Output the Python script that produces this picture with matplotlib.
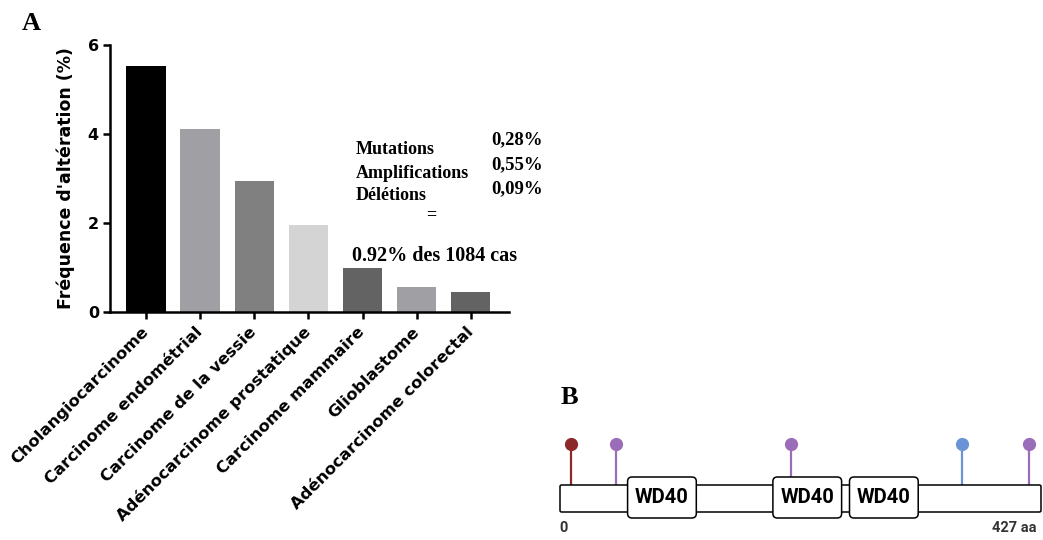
import numpy as np
import matplotlib
matplotlib.use("Agg")
import matplotlib.pyplot as plt
from matplotlib.patches import FancyBboxPatch

# panel A data
cancers = [
    "Cholangiocarcinome", "Carcinome endométrial", "Carcinome de la vessie",
    "Adénocarcinome prostatique", "Carcinome mammaire", "Glioblastome",
    "Adénocarcinome colorectal",
]
freq = [5.53, 4.12, 2.94, 1.94, 0.98, 0.56, 0.45]
bar_colors = ["#000000", "#a0a0a4", "#808080", "#d4d4d4", "#636363", "#a0a0a4", "#636363"]
y_ticks = [0, 2, 4, 6]

alt_types = ["Mutations", "Amplifications", "Délétions"]
alt_pcts = ["0,28%", "0,55%", "0,09%"]
total_text = "0.92% des 1084 cas"

# panel B data (protein, aa)
prot_len = 427
domains = [(60, 121), (189, 250), (257, 318)]
domain_label = "WD40"
mut_pos = [10, 50, 205, 357, 416]
mut_colors = ["#8c2a2a", "#9b6cb8", "#9b6cb8", "#6b94d6", "#9b6cb8"]

W, H = 1043, 540
fig = plt.figure(figsize=(W / 100, H / 100), dpi=100)


def px(x, y):
    return x / W, 1 - y / H


# ---- panel A
ax = fig.add_axes([110 / W, 1 - 311.7 / H, (509 - 110) / W, (311.7 - 45) / H])
xs = np.arange(len(cancers))
ax.bar(xs, freq, width=0.727, color=bar_colors, edgecolor="none")
ax.set_xlim(-0.665, 6.706)
ax.set_ylim(0, 6)
ax.set_yticks(y_ticks)
ax.set_xticks(xs)
ax.set_xticklabels(cancers, rotation=45, ha="right", va="center",
                   rotation_mode="anchor", fontsize=11.8, fontweight="bold",
                   family="DejaVu Sans")
for lab in ax.get_yticklabels():
    lab.set_fontweight("bold")
    lab.set_fontsize(11.5)
ax.tick_params(axis="y", length=5, width=1.8, pad=3)
ax.tick_params(axis="x", length=5, width=1.8, pad=8)
ax.spines["top"].set_visible(False)
ax.spines["right"].set_visible(False)
ax.spines["left"].set_linewidth(1.8)
ax.spines["bottom"].set_linewidth(1.8)
ax.set_ylabel("Fréquence d'altération (%)", fontsize=12.5, fontweight="bold",
              labelpad=9)

serif = "Liberation Serif"
fig.text(*px(31, 23), "A", fontsize=19, fontweight="bold", family=serif,
         ha="center", va="center")
for i, (t, p) in enumerate(zip(alt_types, alt_pcts)):
    fig.text(*px(356, 150 + 23 * i), t, fontsize=13, fontweight="bold",
             family=serif, ha="left", va="center")
    fig.text(*px(517, 140 + 24.5 * i), p, fontsize=13.5, fontweight="bold",
             family=serif, ha="center", va="center")
fig.text(*px(431, 215), "=", fontsize=13, fontweight="bold", family=serif,
         ha="center", va="center")
fig.text(*px(435, 256), total_text, fontsize=14.5, fontweight="bold",
         family=serif, ha="center", va="center")

# ---- panel B
fig.text(*px(569, 397), "B", fontsize=19, fontweight="bold", family=serif,
         ha="center", va="center")
axb = fig.add_axes([560 / W, 0, 481 / W, 110 / H])
axb.set_xlim(0, prot_len)
axb.set_ylim(0, 110)
axb.axis("off")

bar_y0, bar_y1 = 28, 55
axb.add_patch(FancyBboxPatch((0, bar_y0), prot_len, bar_y1 - bar_y0,
                             boxstyle="round,pad=0,rounding_size=1.5",
                             facecolor="white", edgecolor="black",
                             linewidth=1.1, clip_on=False, zorder=2))
for (d0, d1) in domains:
    axb.add_patch(FancyBboxPatch((d0, 22), d1 - d0, 41,
                                 boxstyle="round,pad=0,rounding_size=4",
                                 mutation_aspect=1.1,
                                 facecolor="white", edgecolor="black",
                                 linewidth=1.1, clip_on=False, zorder=3))
    axb.text((d0 + d1) / 2, 42.5, domain_label, fontsize=14.5,
             fontweight="bold", family="Roboto", ha="center", va="center",
             zorder=4)

for p, c in zip(mut_pos, mut_colors):
    axb.plot([p, p], [bar_y1, 96], color=c, linewidth=1.6, zorder=1,
             solid_capstyle="butt")
    axb.plot(p, 96, marker="o", markersize=9.5, color=c, markeredgewidth=0,
             zorder=5, clip_on=False)

axb.text(3, 12, "0", fontsize=10.5, fontweight="bold", family="Roboto",
         color="#333333", ha="center", va="center")
axb.text(prot_len - 4, 12, f"{prot_len} aa", fontsize=10.5, fontweight="bold",
         family="Roboto", color="#333333", ha="right", va="center")

fig.savefig("out.png", dpi=100)
